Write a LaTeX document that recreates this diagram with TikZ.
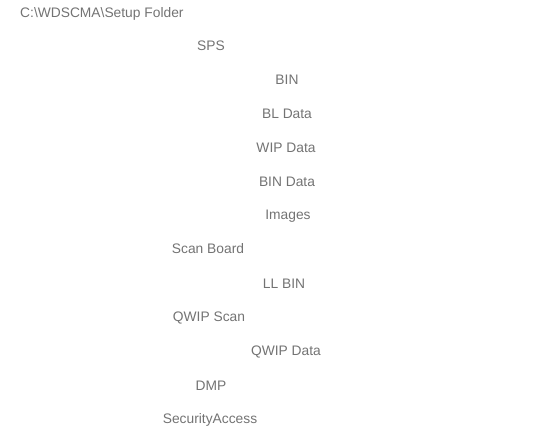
\documentclass[tikz,border=0pt]{standalone}
\usepackage{fontspec}
\setmainfont{Liberation Sans}
\usetikzlibrary{positioning}

\begin{document}
\begin{tikzpicture}[
    x=1pt, y=-1pt,
    font=\fontsize{13.8}{15}\selectfont,
    % folder entries, faint grey text
    root/.style={text=black!55, anchor=west, inner sep=0pt},
    lvlone/.style={text=black!55, inner sep=0pt},
    lvltwo/.style={text=black!55, inner sep=0pt}
]
\useasboundingbox (0,0) rectangle (558,438);

% ===============================
% Root folder
% ===============================
\node[root] (setup) at (20,14) {C:\textbackslash WDSCMA\textbackslash Setup Folder};

% ===============================
% Sub folders
% ===============================
\node[lvlone] (sps) at (211,46) {SPS};
\node[lvltwo] (bin) at (287,80) {BIN};
\node[lvltwo] (bldata) at (287,114) {BL Data};
\node[lvltwo] (wipdata) at (286,148) {WIP Data};
\node[lvltwo] (bindata) at (287,182) {BIN Data};
\node[lvltwo] (images) at (288,216) {Images};

\node[lvlone] (scanboard) at (208,249) {Scan Board};
\node[lvltwo] (llbin) at (284,284) {LL BIN};

\node[lvlone] (qwipscan) at (209,318) {QWIP Scan};
\node[lvltwo] (qwipdata) at (286,352) {QWIP Data};

\node[lvlone] (dmp) at (211,386) {DMP};
\node[lvlone] (security) at (210,420) {SecurityAccess};

\end{tikzpicture}
\end{document}
